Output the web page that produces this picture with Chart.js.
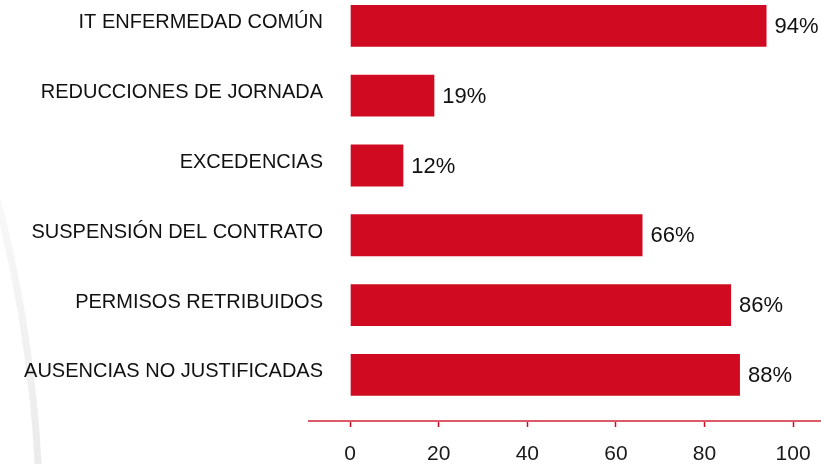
<!DOCTYPE html>
<html>
<head>
<meta charset="utf-8">
<script src="https://cdn.jsdelivr.net/npm/chart.js@4/dist/chart.umd.min.js"></script>
<style>
  html, body { margin: 0; padding: 0; background: #ffffff; }
  #wrap { width: 821px; height: 464px; }
</style>
</head>
<body>
<div id="wrap"><canvas id="c" width="821" height="464"></canvas></div>
<script>
// ---- data ----
const categories = [
  'IT ENFERMEDAD COMÚN',
  'REDUCCIONES DE JORNADA',
  'EXCEDENCIAS',
  'SUSPENSIÓN DEL CONTRATO',
  'PERMISOS RETRIBUIDOS',
  'AUSENCIAS NO JUSTIFICADAS'
];
const values = [94, 19, 12, 66, 86, 88];
const xTicks = [0, 20, 40, 60, 80, 100];

const RED = '#d00b21';
const FONT = 'Liberation Sans';

const bgArc = {
  id: 'bgArc',
  beforeDraw(chart) {
    const ctx = chart.ctx;
    ctx.save();
    const g = ctx.createLinearGradient(0, 200, 0, 464);
    g.addColorStop(0, '#f8f8f8');
    g.addColorStop(1, '#ebebeb');
    ctx.strokeStyle = g;
    ctx.lineWidth = 7;
    ctx.beginPath();
    ctx.arc(-1297, 535, 1337, -0.3, 0.1);
    ctx.stroke();
    ctx.restore();
  }
};

const valueLabels = {
  id: 'valueLabels',
  afterDatasetsDraw(chart) {
    const ctx = chart.ctx;
    const meta = chart.getDatasetMeta(0);
    ctx.save();
    ctx.font = '22px "' + FONT + '"';
    ctx.fillStyle = '#111111';
    ctx.textAlign = 'left';
    ctx.textBaseline = 'middle';
    meta.data.forEach((el, i) => {
      ctx.fillText(values[i] + '%', el.x + 8, el.y + 1);
    });
    ctx.restore();
  }
};

new Chart(document.getElementById('c'), {
  type: 'bar',
  data: {
    datasets: [{
      data: values.map((v, i) => ({ x: v, y: i })),
      backgroundColor: RED,
      borderWidth: 0,
      categoryPercentage: 1,
      barPercentage: 0.6
    }]
  },
  options: {
    indexAxis: 'y',
    responsive: false,
    animation: false,
    layout: { padding: 0 },
    plugins: { legend: { display: false }, tooltip: { enabled: false } },
    scales: {
      x: {
        type: 'linear',
        min: -9.3,
        max: 106.3,
        afterBuildTicks(scale) { scale.ticks = xTicks.map(v => ({ value: v })); },
        afterFit(scale) { scale.height = 43; scale.paddingLeft = 0; scale.paddingRight = 0; },
        grid: { drawOnChartArea: false, drawTicks: true, tickLength: 6, tickColor: RED, tickWidth: 1.5, color: RED },
        border: { display: true, color: '#dd5b68', width: 2 },
        ticks: { font: { family: FONT, size: 21 }, color: '#1a1a1a', padding: 15, maxRotation: 0 }
      },
      y: {
        type: 'linear',
        reverse: true,
        offset: false,
        min: -0.37,
        max: 5.66,
        afterBuildTicks(scale) { scale.ticks = categories.map((_, i) => ({ value: i })); },
        afterFit(scale) {
          scale.width = 309;
          scale.paddingTop = 0;
          scale.paddingBottom = 0;
          scale._computeLabelArea = () => undefined;
        },
        grid: { display: false, drawTicks: false, offset: false },
        border: { display: false },
        ticks: {
          font: { family: FONT, size: 20 },
          color: '#111111',
          padding: -14,
          labelOffset: -3,
          callback: (v) => categories[v]
        }
      }
    }
  },
  plugins: [bgArc, valueLabels]
});
</script>
</body>
</html>
